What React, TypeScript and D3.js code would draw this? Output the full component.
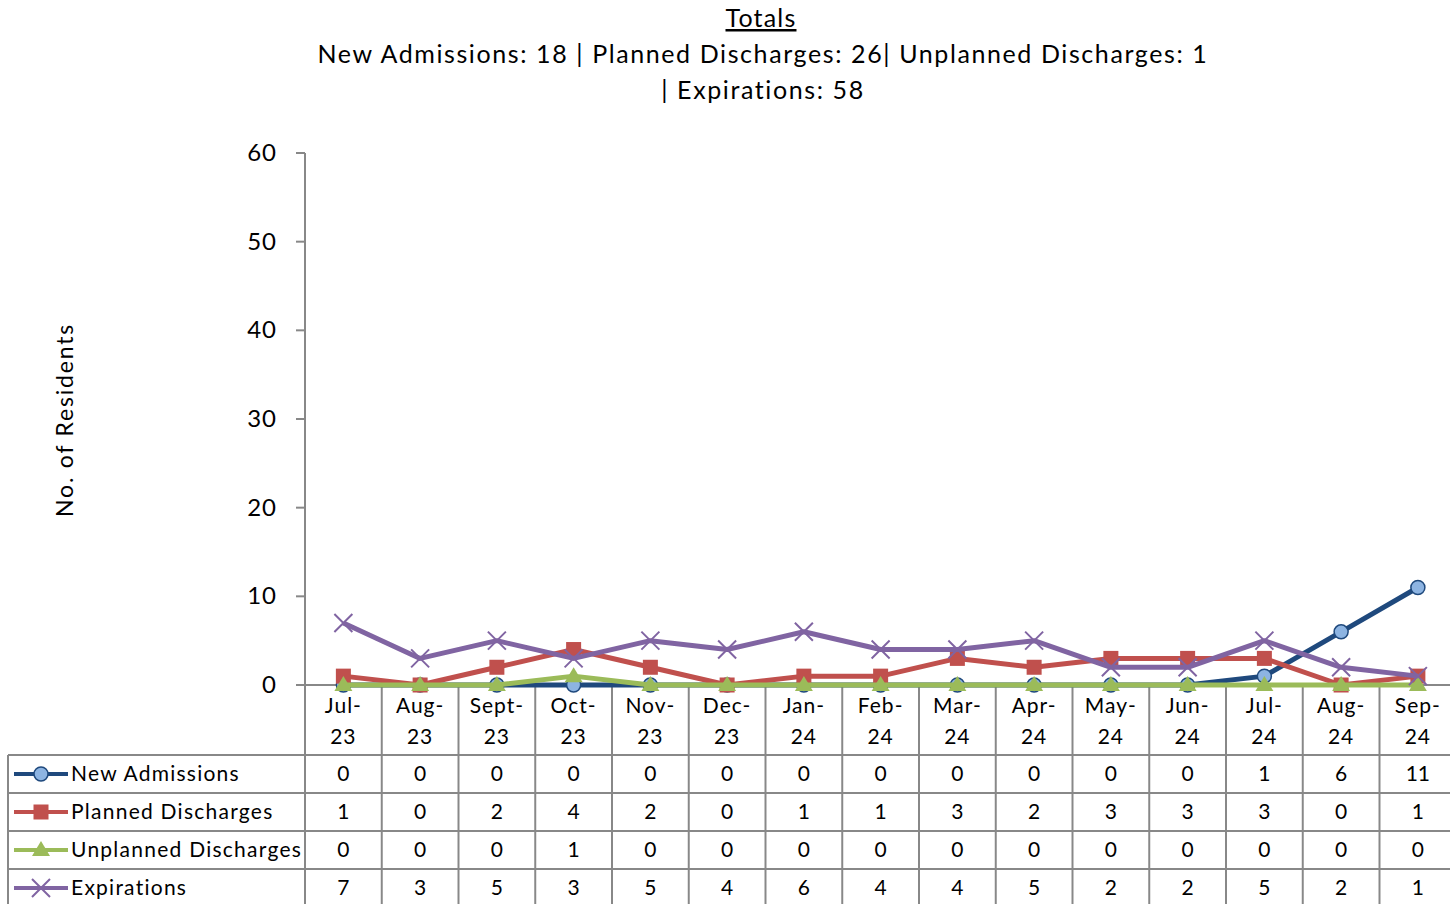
import React, {JSX} from "react";
import * as d3 from "d3";

const months = ["Jul-23", "Aug-23", "Sept-23", "Oct-23", "Nov-23", "Dec-23", "Jan-24", "Feb-24", "Mar-24", "Apr-24", "May-24", "Jun-24", "Jul-24", "Aug-24", "Sep-24"];
const newAdmissions = [0, 0, 0, 0, 0, 0, 0, 0, 0, 0, 0, 0, 1, 6, 11];
const plannedDischarges = [1, 0, 2, 4, 2, 0, 1, 1, 3, 2, 3, 3, 3, 0, 1];
const unplannedDischarges = [0, 0, 0, 1, 0, 0, 0, 0, 0, 0, 0, 0, 0, 0, 0];
const expirations = [7, 3, 5, 3, 5, 4, 6, 4, 4, 5, 2, 2, 5, 2, 1];
const yTicks = [0, 10, 20, 30, 40, 50, 60];

const series = [
    {name: "New Admissions", values: newAdmissions, color: "#1F497D", fill: "#8DB4E2", marker: "circle"},
    {name: "Planned Discharges", values: plannedDischarges, color: "#C0504D", fill: "#C0504D", marker: "square"},
    {name: "Unplanned Discharges", values: unplannedDischarges, color: "#9BBB59", fill: "#9BBB59", marker: "triangle"},
    {name: "Expirations", values: expirations, color: "#8064A2", fill: "#8064A2", marker: "x"},
];

const FONT = "Lato, 'Open Sans', sans-serif";

const Marker = ({kind, cx, cy, color, fill}: {kind: string, cx: number, cy: number, color: string, fill: string}): JSX.Element => {
    if (kind === "circle") return <circle cx={cx} cy={cy} r={7} fill={fill} stroke={color} strokeWidth={1.5}/>;
    if (kind === "square") return <rect x={cx - 7.5} y={cy - 7.5} width={15} height={15} fill={fill}/>;
    if (kind === "triangle") return <path d={`M${cx},${cy - 9}L${cx + 9},${cy + 6}L${cx - 9},${cy + 6}Z`} fill={fill}/>;
    return <path d={`M${cx - 9},${cy - 9}L${cx + 9},${cy + 9}M${cx - 9},${cy + 9}L${cx + 9},${cy - 9}`} stroke={color} strokeWidth={2}/>;
};

export default function App(): JSX.Element {
    const width = 1450;
    const height = 904;
    const plotLeft = 305;
    const colW = 76.75;
    const x = d3.scaleBand<string>().domain(months).range([plotLeft, plotLeft + colW * months.length]).padding(0);
    const y = d3.scaleLinear().domain([0, 60]).range([685, 153]);
    const cx = (m: string) => (x(m) as number) + x.bandwidth() / 2;
    const line = d3.line<number>((d, i) => cx(months[i]), d => y(d));

    const tableTop = 755;
    const rowH = 38;
    const tableLeft = 8;
    const tableRight = plotLeft + colW * months.length;
    const grid = "#888888";

    return (
        <svg width={width} height={height} style={{position: "absolute", left: 0, top: 0}} fontFamily={FONT}>
            <rect width={width} height={height} fill="white"/>
            {/* title */}
            <text x={761} y={27} textAnchor="middle" fontSize={25} letterSpacing={1.2} textDecoration="underline">Totals</text>
            <text x={763} y={63} textAnchor="middle" fontSize={25} letterSpacing={1.6}>New Admissions: 18 | Planned Discharges: 26| Unplanned Discharges: 1</text>
            <text x={763} y={99} textAnchor="middle" fontSize={25} letterSpacing={1.6}>| Expirations: 58</text>

            {/* y axis */}
            <line x1={plotLeft} x2={plotLeft} y1={y(60)} y2={height} stroke={grid} strokeWidth={2}/>
            {yTicks.map(t => (
                <g key={t}>
                    <line x1={plotLeft - 9} x2={plotLeft} y1={y(t)} y2={y(t)} stroke={grid} strokeWidth={2}/>
                    <text x={277} y={y(t) + 8} textAnchor="end" fontSize={24} letterSpacing={1}>{t}</text>
                </g>
            ))}
            <text transform="translate(73,420) rotate(-90)" textAnchor="middle" fontSize={23} letterSpacing={1.8}>No. of Residents</text>
            <line x1={plotLeft - 9} x2={tableRight} y1={y(0)} y2={y(0)} stroke={grid} strokeWidth={2}/>

            {/* category header cells */}
            {months.map((m, i) => {
                const [a, b] = m.split("-");
                return (
                    <g key={m}>
                        {i > 0 && <line x1={x(m)} x2={x(m)} y1={y(0)} y2={height} stroke={grid} strokeWidth={2}/>}
                        <text x={cx(m)} y={713} textAnchor="middle" fontSize={21} letterSpacing={1}>{a}-</text>
                        <text x={cx(m)} y={744} textAnchor="middle" fontSize={21} letterSpacing={1}>{b}</text>
                    </g>
                );
            })}

            {/* data table */}
            <line x1={tableLeft} x2={tableLeft} y1={tableTop} y2={height} stroke={grid} strokeWidth={2}/>
            {series.map((s, r) => {
                const top = tableTop + r * rowH;
                const mid = top + rowH / 2;
                return (
                    <g key={s.name}>
                        <line x1={tableLeft} x2={tableRight} y1={top} y2={top} stroke={grid} strokeWidth={2}/>
                        <line x1={14} x2={68} y1={mid} y2={mid} stroke={s.color} strokeWidth={4}/>
                        <Marker kind={s.marker} cx={41} cy={mid} color={s.color} fill={s.fill}/>
                        <text x={71} y={mid + 7} fontSize={21} letterSpacing={1.25}>{s.name}</text>
                        {s.values.map((v, i) => (
                            <text key={i} x={cx(months[i])} y={mid + 7} textAnchor="middle" fontSize={21}>{v}</text>
                        ))}
                    </g>
                );
            })}

            {/* lines */}
            {series.map(s => (
                <g key={s.name}>
                    <path d={line(s.values) as string} fill="none" stroke={s.color} strokeWidth={5} strokeLinejoin="round"/>
                    {s.values.map((v, i) => (
                        <Marker key={i} kind={s.marker} cx={cx(months[i])} cy={y(v)} color={s.color} fill={s.fill}/>
                    ))}
                </g>
            ))}
        </svg>
    );
}
